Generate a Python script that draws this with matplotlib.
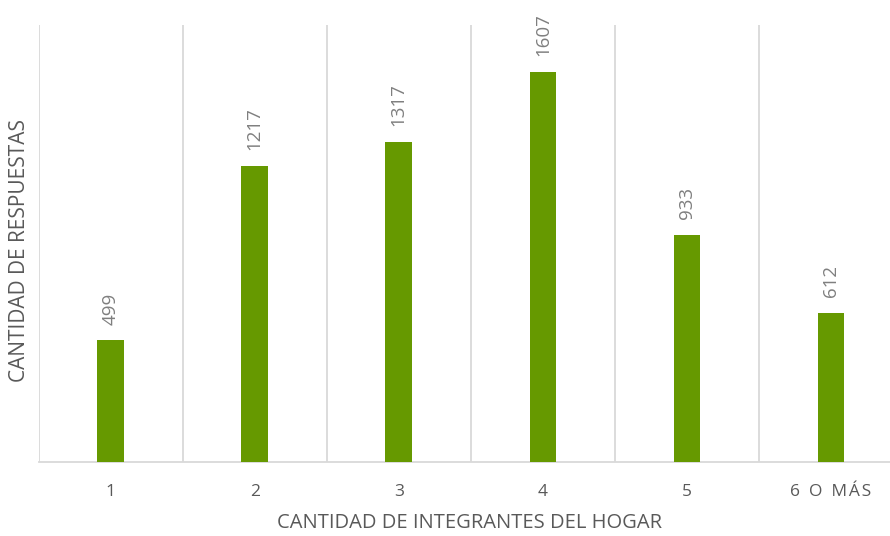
import numpy as np
import matplotlib
matplotlib.use("Agg")
import matplotlib.pyplot as plt

# data
categorias = ["1", "2", "3", "4", "5", "6  O  M\u200aÁ\u200aS"]
respuestas = [499, 1217, 1317, 1607, 933, 612]

verde = "#669900"
gris_grid = "#d9d9d9"
gris_txt = "#595959"
gris_lab = "#7f7f7f"

plt.rcParams['font.family'] = ['Open Sans', 'DejaVu Sans']

fig = plt.figure(figsize=(8.9, 5.36), dpi=100)
# plot area runs past the right edge of the picture (cropped original)
ax = fig.add_axes([38.5/890, 1-461.5/536, 864.6/890, 436.5/536])

x = np.arange(len(categorias))
bars = ax.bar(x, respuestas, width=0.185, color=verde, zorder=3)

ax.set_xlim(-0.5, len(categorias)-0.5)
ax.set_ylim(0, 1800)

# vertical gridlines between categories
for b in np.arange(-0.5, len(categorias)+0.5, 1.0):
    ax.axvline(b, color=gris_grid, linewidth=1.3, zorder=1)

for s in ["top", "right", "left"]:
    ax.spines[s].set_visible(False)
ax.spines["bottom"].set_color(gris_grid)
ax.spines["bottom"].set_linewidth(1.3)

ax.set_yticks([])
ax.set_xticks(x)
ax.set_xticklabels(categorias, fontsize=12.5, color=gris_txt)
ax.tick_params(axis="x", length=0, pad=16)

for xi, v in zip(x, respuestas):
    ax.annotate(str(v), (xi, v), xytext=(0, 11.5), textcoords="offset points",
                rotation=90, ha="center", va="bottom", fontsize=13.5, color=gris_lab)

fig.text(470/890, 1-523/536, "CANTIDAD DE INTEGRANTES DEL HOGAR", ha="center", va="center",
         fontsize=14.5, color=gris_txt)
fig.text(20/890, 1-250/536, "CANTIDAD DE RESPUESTAS", ha="center", va="center",
         rotation=90, fontsize=15, color=gris_txt)

fig.savefig("out.png", dpi=100)
